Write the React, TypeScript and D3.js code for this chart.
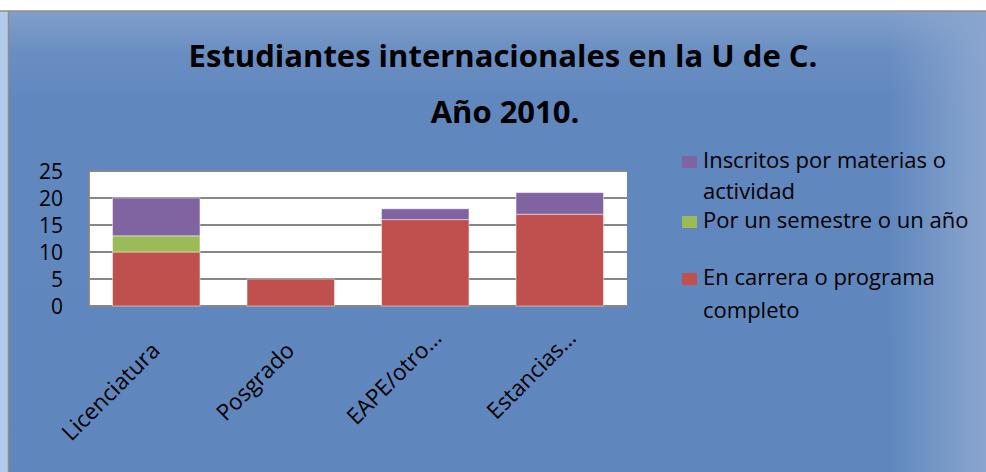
import React, { useEffect, useRef } from "react";
import * as d3 from "d3";

// chart data
const categories = ["Licenciatura", "Posgrado", "EAPE/otro…", "Estancias…"];
const enCarrera = [10, 5, 16, 17];
const porSemestre = [3, 0, 0, 0];
const inscritosMaterias = [7, 0, 2, 4];
const seriesColors = ["#C0504D", "#9BBB59", "#8064A2"];
const yTicks = [0, 5, 10, 15, 20, 25];

const FONT = "'Open Sans', Lato, sans-serif";

function App() {
  const ref = useRef<SVGSVGElement>(null);

  useEffect(() => {
    const svg = d3.select(ref.current);
    svg.selectAll("*").remove();

    const width = 986;
    const height = 472;

    // plot area
    const left = 89;
    const right = 627;
    const top = 171;
    const bottom = 306;

    const defs = svg.append("defs");
    const gv = defs
      .append("linearGradient")
      .attr("id", "bgv")
      .attr("x1", 0)
      .attr("y1", 0)
      .attr("x2", 0)
      .attr("y2", 1);
    gv.append("stop").attr("offset", "0%").attr("stop-color", "#819fca");
    gv.append("stop").attr("offset", "9%").attr("stop-color", "#6a8ec2");
    gv.append("stop").attr("offset", "20%").attr("stop-color", "#6087be");
    gv.append("stop").attr("offset", "100%").attr("stop-color", "#5f87bd");

    const gh = defs
      .append("linearGradient")
      .attr("id", "bgh")
      .attr("x1", 0)
      .attr("y1", 0)
      .attr("x2", 1)
      .attr("y2", 0);
    gh.append("stop").attr("offset", "0%").attr("stop-color", "#8aa6cf").attr("stop-opacity", 0);
    gh.append("stop").attr("offset", "90%").attr("stop-color", "#8aa6cf").attr("stop-opacity", 0);
    gh.append("stop").attr("offset", "100%").attr("stop-color", "#8aa6cf").attr("stop-opacity", 1);

    // page background
    svg.append("rect").attr("width", width).attr("height", height).attr("fill", "#ffffff");
    svg.append("rect").attr("x", 0).attr("y", 11).attr("width", 9).attr("height", height - 11).attr("fill", "#b2cbeb");
    svg.append("rect").attr("x", 9).attr("y", 11).attr("width", width - 9).attr("height", height - 11).attr("fill", "url(#bgv)");
    svg.append("rect").attr("x", 9).attr("y", 11).attr("width", width - 9).attr("height", height - 11).attr("fill", "url(#bgh)");
    svg.append("line").attr("x1", 0).attr("x2", width).attr("y1", 11).attr("y2", 11).attr("stroke", "#8c8c8c").attr("stroke-width", 1.5);
    svg.append("line").attr("x1", 8.5).attr("x2", 8.5).attr("y1", 11).attr("y2", height).attr("stroke", "#8c8c8c").attr("stroke-width", 1.5);

    // title
    const title = svg
      .append("text")
      .attr("text-anchor", "middle")
      .attr("font-family", FONT)
      .attr("font-weight", "bold")
      .attr("font-size", 31)
      .attr("fill", "#000");
    title.append("tspan").attr("x", 503).attr("y", 67).text("Estudiantes internacionales en la U de C.");
    title.append("tspan").attr("x", 505).attr("y", 123).text("Año 2010.");

    // scales
    const x = d3
      .scaleBand()
      .domain(categories)
      .range([left, right])
      .paddingInner(0.35)
      .paddingOuter(0.175);

    const y = d3.scaleLinear().domain([0, 25]).range([bottom, top]);

    // plot background
    svg
      .append("rect")
      .attr("x", left)
      .attr("y", top)
      .attr("width", right - left)
      .attr("height", bottom - top)
      .attr("fill", "#ffffff");

    // gridlines
    svg
      .append("g")
      .selectAll("line")
      .data(yTicks)
      .join("line")
      .attr("x1", left)
      .attr("x2", right)
      .attr("y1", d => y(d))
      .attr("y2", d => y(d))
      .attr("stroke", "#878787")
      .attr("stroke-width", 1.8);

    svg
      .append("line")
      .attr("x1", left)
      .attr("x2", left)
      .attr("y1", top)
      .attr("y2", bottom)
      .attr("stroke", "#878787")
      .attr("stroke-width", 1.8);

    // stacked bars
    const rows = categories.map((c, i) => ({
      cat: c,
      a: enCarrera[i],
      b: porSemestre[i],
      c: inscritosMaterias[i],
    }));
    const stack = d3.stack<any>().keys(["a", "b", "c"]);
    const layers = stack(rows);

    svg
      .append("g")
      .selectAll("g")
      .data(layers)
      .join("g")
      .attr("fill", (d, i) => seriesColors[i])
      .selectAll("rect")
      .data(d => d.filter(s => s[1] - s[0] > 0))
      .join("rect")
      .attr("x", d => x(d.data.cat) as number)
      .attr("y", d => y(d[1]))
      .attr("width", x.bandwidth())
      .attr("height", d => y(d[0]) - y(d[1]))
      .attr("stroke", "#ffffff")
      .attr("stroke-opacity", 0.45)
      .attr("stroke-width", 1);

    // y tick labels
    svg
      .append("g")
      .selectAll("text")
      .data(yTicks)
      .join("text")
      .attr("x", 63)
      .attr("y", d => y(d))
      .attr("dy", "0.36em")
      .attr("text-anchor", "end")
      .attr("font-family", FONT)
      .attr("font-size", 21)
      .attr("fill", "#000")
      .text(d => d);

    // x labels, rotated (truncated labels sit a bit further along)
    svg
      .append("g")
      .selectAll("text")
      .data(categories)
      .join("text")
      .attr("transform", d => `translate(${(x(d) as number) + x.bandwidth() / 2 + 5},${352}) rotate(-45)`)
      .attr("dx", d => (d.endsWith("…") ? 18 : 0))
      .attr("text-anchor", "end")
      .attr("font-family", FONT)
      .attr("font-size", 22.5)
      .attr("fill", "#000")
      .text(d => d);

    // legend
    const legend = [
      { color: seriesColors[2], lines: ["Inscritos por materias o", "actividad"], y: 168 },
      { color: seriesColors[1], lines: ["Por un semestre o un año"], y: 228 },
      { color: seriesColors[0], lines: ["En carrera o programa", "completo"], y: 285 },
    ];
    const lg = svg.append("g").attr("font-family", FONT).attr("font-size", 22).attr("fill", "#000");
    legend.forEach(item => {
      lg.append("rect")
        .attr("x", 682)
        .attr("y", item.y - 12)
        .attr("width", 15)
        .attr("height", 12)
        .attr("fill", item.color);
      item.lines.forEach((t, j) => {
        lg.append("text")
          .attr("x", 703)
          .attr("y", item.y + j * (j ? 31 : 0) + (j && item.y === 285 ? 2 : 0))
          .text(t);
      });
    });
  }, []);

  return (
    <svg
      ref={ref}
      width={986}
      height={472}
      viewBox="0 0 986 472"
      style={{ position: "absolute", left: 0, top: 0, display: "block" }}
    />
  );
}

export default App;
